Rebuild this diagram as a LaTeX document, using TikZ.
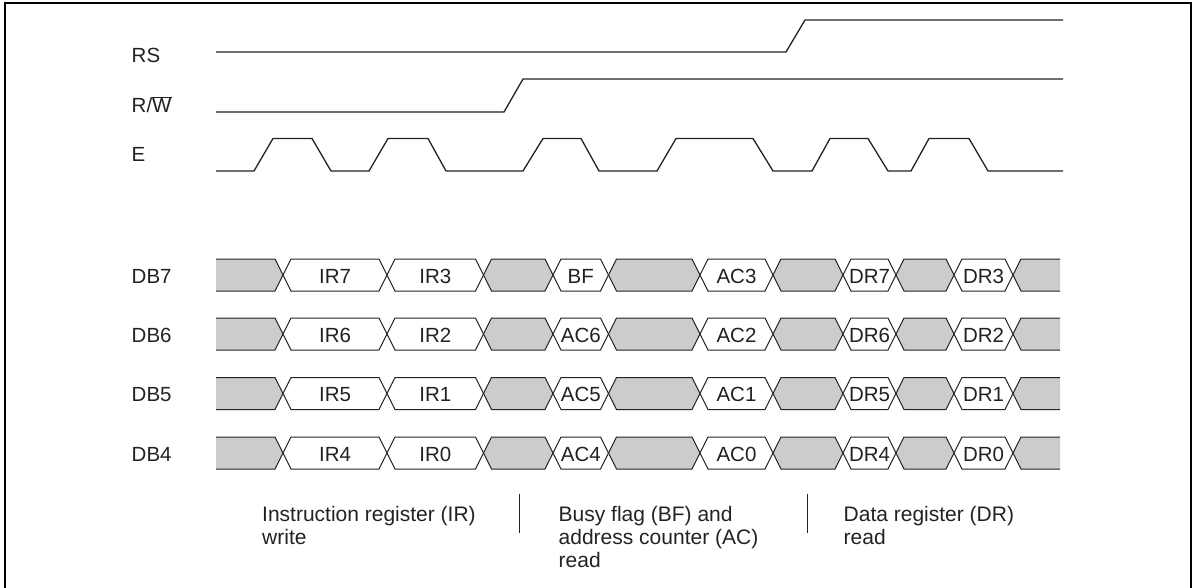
\documentclass[tikz,border=0pt]{standalone}
\usepackage{fontspec}
\setmainfont{Liberation Sans}
\definecolor{busgray}{HTML}{CCCCCC}
\definecolor{ink}{HTML}{222222}
\tikzset{
  sig/.style={draw=ink, line width=1.3pt, line join=miter},
  bus/.style={draw=ink, line width=1pt, line join=miter},
  gray seg/.style={bus, fill=busgray},
  white seg/.style={bus, fill=white},
  lbl/.style={anchor=base west, inner sep=0pt, font=\fontsize{20.5}{24}\selectfont, text=ink},
  boxtxt/.style={anchor=base, inner sep=0pt, font=\fontsize{20.5}{24}\selectfont, text=ink},
  note/.style={anchor=base west, inner sep=0pt, font=\fontsize{21}{24}\selectfont, text=ink},
  sepline/.style={draw=ink, line width=1pt},
  frame/.style={draw=black, line width=1.6pt}
}
% left x, right x, centre y, style
\newcommand{\dseg}[4]{%
  \path[#4] (#1,#3) -- (#1+8,#3-16) -- (#2-8,#3-16) -- (#2,#3) -- (#2-8,#3+16) -- (#1+8,#3+16) -- cycle;}
\begin{document}
\begin{tikzpicture}[x=1pt,y=-1pt]
\useasboundingbox (0,0) rectangle (1198,588);
% frame
\draw[frame] (5,592) -- (5,3) -- (1191,3) -- (1191,592);

% signal labels
\node[lbl] (rs) at (131.5,62.3) {RS};
\node[lbl] (rw) at (131.5,112.7) {R/$\overline{\hbox{W}}$};
\node[lbl] (e) at (131.5,162) {E};

% signals
\draw[sig] (216,52) -- (786,52) -- (805,20) -- (1063,20);
\draw[sig] (216,112) -- (504,112) -- (523,79) -- (1063,79);
\draw[sig] (216,171) -- (254,171) -- (273,138.5) -- (312,138.5) -- (331,171)
  -- (369,171) -- (388,138.5) -- (428,138.5) -- (446,171)
  -- (523,171) -- (543,138.5) -- (581,138.5) -- (599,171)
  -- (657,171) -- (676,138.5) -- (753,138.5) -- (773,171)
  -- (812,171) -- (830,138.5) -- (868,138.5) -- (888,171)
  -- (911,171) -- (929,138.5) -- (969,138.5) -- (988,171) -- (1063,171);

% data bus rows
\foreach \yc/\n/\a/\b/\c/\d/\e/\f in {
  275/7/IR7/IR3/BF/AC3/DR7/DR3,
  334/6/IR6/IR2/AC6/AC2/DR6/DR2,
  393.5/5/IR5/IR1/AC5/AC1/DR5/DR1,
  453/4/IR4/IR0/AC4/AC0/DR4/DR0}{
  \node[lbl] (db\n) at (131.5,\yc+8.3) {DB\n};
  % first gray
  \fill[busgray] (216,\yc-16) -- (275,\yc-16) -- (283,\yc) -- (275,\yc+16) -- (216,\yc+16) -- cycle;
  \draw[bus] (216,\yc-16) -- (275,\yc-16) -- (283,\yc) -- (275,\yc+16) -- (216,\yc+16);
  \dseg{283}{387}{\yc}{white seg}
  \dseg{387}{483.5}{\yc}{white seg}
  \dseg{483.5}{553}{\yc}{gray seg}
  \dseg{553}{608.5}{\yc}{white seg}
  \dseg{608.5}{700}{\yc}{gray seg}
  \dseg{700}{773}{\yc}{white seg}
  \dseg{773}{843}{\yc}{gray seg}
  \dseg{843}{896}{\yc}{white seg}
  \dseg{896}{954}{\yc}{gray seg}
  \dseg{954}{1013}{\yc}{white seg}
  % last gray
  \fill[busgray] (1060,\yc-16) -- (1021,\yc-16) -- (1013,\yc) -- (1021,\yc+16) -- (1060,\yc+16) -- cycle;
  \draw[bus] (1060,\yc-16) -- (1021,\yc-16) -- (1013,\yc) -- (1021,\yc+16) -- (1060,\yc+16);
  % texts
  \node[boxtxt] (t\n a) at (335,\yc+8.3) {\a};
  \node[boxtxt] (t\n b) at (435.3,\yc+8.3) {\b};
  \node[boxtxt] (t\n c) at (580.8,\yc+8.3) {\c};
  \node[boxtxt] (t\n d) at (736.5,\yc+8.3) {\d};
  \node[boxtxt] (t\n e) at (869.5,\yc+8.3) {\e};
  \node[boxtxt] (t\n f) at (983.5,\yc+8.3) {\f};
}

% bottom notes
\node[note] (irA) at (262,521) {Instruction register (IR)};
\node[note] (irB) at (262,544) {write};
\node[note] (bfA) at (558.5,521) {Busy flag (BF) and};
\node[note] (bfB) at (558.5,544) {address counter (AC)};
\node[note] (bfC) at (558.5,567) {read};
\node[note] (drA) at (843.5,521) {Data register (DR)};
\node[note] (drB) at (843.5,544) {read};
\coordinate (s1t) at (519,494);
\coordinate (s1b) at (519,533);
\coordinate (s2t) at (807,494);
\coordinate (s2b) at (807,533);
\draw[sepline] (s1t) -- (s1b);
\draw[sepline] (s2t) -- (s2b);
\end{tikzpicture}
\end{document}
